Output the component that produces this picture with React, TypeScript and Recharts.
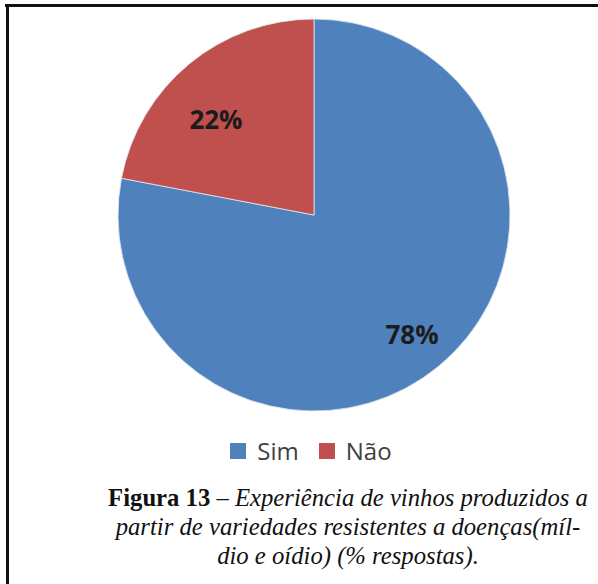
import { PieChart, Pie, Cell, Legend } from "recharts";

// answers to "experience with wines from resistant varieties"
const categories = ["Sim", "Não"];
const shares = [78, 22];

const COLORS = ["#4F81BD", "#C0504D"];
// label placement, per slice (fraction of radius + small angle nudge)
const LABEL_POS = [
  { r: 0.785, shift: 0 },
  { r: 0.7, shift: 6 },
];

const data = categories.map((name, i) => ({ name, value: shares[i] }));

const RADIAN = Math.PI / 180;

// eslint-disable-next-line @typescript-eslint/no-explicit-any
const renderLabel = (props: any) => {
  const { cx, cy, midAngle, outerRadius, index, value } = props;
  const pos = LABEL_POS[index] || { r: 0.75, shift: 0 };
  const a = (midAngle + pos.shift) * RADIAN;
  const r = outerRadius * pos.r;
  return (
    <text
      x={cx + r * Math.cos(a)}
      y={cy - r * Math.sin(a)}
      textAnchor="middle"
      dominantBaseline="central"
      fill="#1c1c1c"
      fontFamily="'Open Sans', sans-serif"
      fontWeight={700}
      fontSize={26}
    >
      {value}%
    </text>
  );
};

// eslint-disable-next-line @typescript-eslint/no-explicit-any
const renderLegend = (props: any) => {
  // keep the data order (recharts sorts by name otherwise)
  const payload = [...(props.payload || [])].sort(
    // eslint-disable-next-line @typescript-eslint/no-explicit-any
    (a: any, b: any) => categories.indexOf(a.value) - categories.indexOf(b.value)
  );
  return (
    <div style={{ display: "flex", justifyContent: "center", fontFamily: "'Open Sans', sans-serif" }}>
      {/* eslint-disable-next-line @typescript-eslint/no-explicit-any */}
      {payload.map((p: any, i: number) => (
        <div key={i} style={{ display: "flex", alignItems: "center", marginRight: i < payload.length - 1 ? 20 : 0 }}>
          <span style={{ width: 16, height: 16, background: p.color, display: "inline-block", marginRight: 11 }} />
          <span style={{ fontSize: 24, color: "#404040", lineHeight: "30px" }}>{p.value}</span>
        </div>
      ))}
    </div>
  );
};

export default function App() {
  return (
    <div style={{ position: "absolute", left: 0, top: 0, width: 598, height: 584, background: "#fff", overflow: "hidden" }}>
      <div style={{ position: "absolute", left: 5, top: 4, width: 593, height: 3, background: "#111" }} />
      <div style={{ position: "absolute", left: 6, top: 4, width: 3, height: 580, background: "#111" }} />

      <div style={{ position: "absolute", left: 0, top: 0 }}>
        <PieChart width={598} height={480} margin={{ top: 0, right: 0, bottom: 0, left: 0 }}>
          <Pie
            data={data}
            dataKey="value"
            nameKey="name"
            cx={314}
            cy={215}
            outerRadius={196}
            startAngle={90}
            endAngle={-270}
            stroke="#e4eaf2"
            strokeWidth={0.8}
            label={renderLabel}
            labelLine={false}
            isAnimationActive={false}
          >
            {data.map((d, i) => (
              <Cell key={d.name} fill={COLORS[i]} />
            ))}
          </Pie>
          <Legend
            content={renderLegend}
            wrapperStyle={{ top: 436, left: 12, width: 598 }}
          />
        </PieChart>
      </div>

      <div
        style={{
          position: "absolute",
          left: 98,
          top: 483,
          width: 500,
          textAlign: "center",
          fontFamily: "'Liberation Serif', serif",
          fontSize: 24.7,
          lineHeight: "29px",
          color: "#111",
        }}
      >
        <b>Figura 13</b> – <i>Experiência de vinhos produzidos a</i>
        <br />
        <i>partir de variedades resistentes a doenças(míl-</i>
        <br />
        <i>dio e oídio) (% respostas).</i>
      </div>
    </div>
  );
}
